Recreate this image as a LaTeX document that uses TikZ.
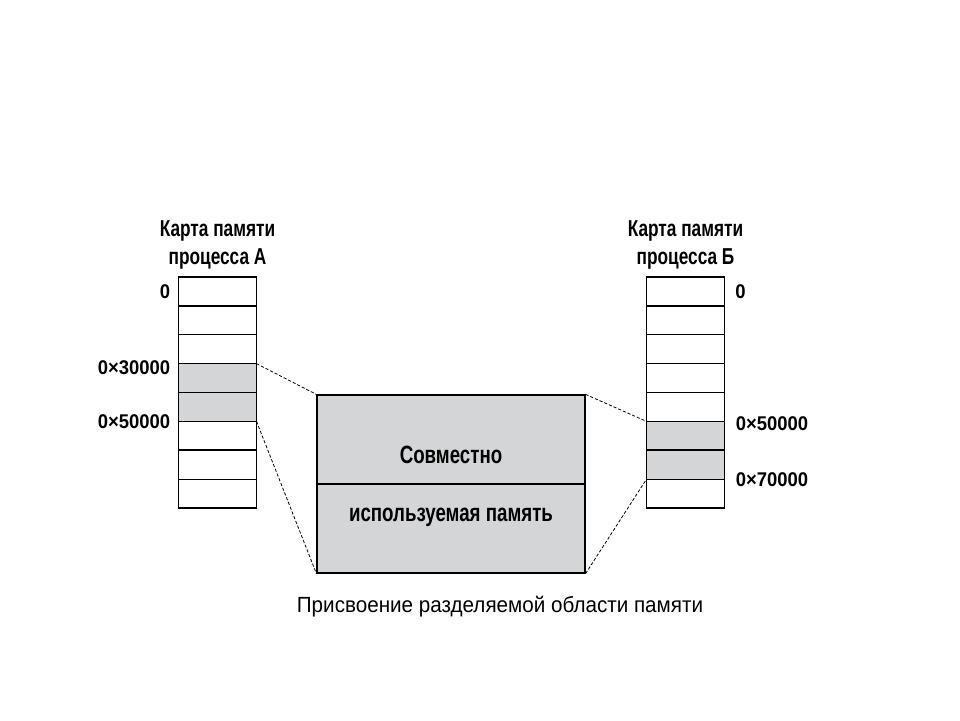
\documentclass[tikz,border=0pt]{standalone}
\usepackage{fontspec}
\setmainfont{Liberation Sans}
\newfontfamily\headfont{Liberation Sans}[FakeStretch=0.75]
\newfontfamily\addrfont{Liberation Sans}[FakeStretch=0.93]
\newfontfamily\capfont{Liberation Sans}[FakeStretch=0.94]
\usetikzlibrary{positioning,calc}
\definecolor{memgray}{RGB}{211,213,214}

\begin{document}
\begin{tikzpicture}[
    x=0.02cm, y=-0.02cm,
    cell/.style={rectangle, draw=black, line width=0.6pt, minimum width=1.56cm, minimum height=0.5775cm, inner sep=0pt, outer sep=0pt},
    title/.style={font=\headfont\bfseries\fontsize{13.1}{15.9}\selectfont, align=center, inner sep=0pt},
    addr/.style={font=\addrfont\bfseries\fontsize{11.3}{13}\selectfont, inner sep=0pt},
    inside/.style={font=\headfont\bfseries\fontsize{14.2}{16}\selectfont, inner sep=0pt},
    link/.style={dash pattern=on 1.8pt off 1.1pt, line width=0.45pt},
    divider/.style={line width=1.1pt}
]
    \useasboundingbox (0,0) rectangle (960,720);

    % memory maps of both processes
    \foreach \i/\fa/\fb in {1/white/white,2/white/white,3/white/white,4/memgray/white,5/memgray/white,6/white/memgray,7/white/memgray,8/white/white} {
        \node[cell, fill=\fa] (a\i) at (217.5, {277+(\i-0.5)*28.875}) {};
        \node[cell, fill=\fb] (b\i) at (685.5, {277+(\i-0.5)*28.875}) {};
    }
    \foreach \i in {1,6} {
        \draw[divider] (a\i.south west) -- (a\i.south east);
        \draw[divider] (b\i.south west) -- (b\i.south east);
    }

    \node[title, above=0.14cm of a1] (titleA) {Карта памяти\\процесса А};
    \node[title, above=0.14cm of b1] (titleB) {Карта памяти\\процесса Б};

    \node[addr, left=0.16cm of a1] (a0) {0};
    \node[addr, anchor=east] (a30) at ($(a4.north west)+(-8,4)$) {0×30000};
    \node[addr, anchor=east] (a50) at ($(a5.south west)+(-8,0)$) {0×50000};
    \node[addr, right=0.21cm of b1] (b0) {0};
    \node[addr, anchor=west] (b50) at ($(b6.north east)+(11,2)$) {0×50000};
    \node[addr, anchor=west] (b70) at ($(b7.south east)+(11,1)$) {0×70000};

    % shared region
    \node[rectangle, draw=black, fill=memgray, line width=0.7pt, minimum width=5.36cm, minimum height=3.56cm, inner sep=0pt] (shm) at (451,484) {};
    \draw[divider] (shm.west) -- (shm.east);
    \node[inside, above=0.4cm of shm.center] (shmtop) {Совместно};
    \node[inside, below=0.48cm of shm.center] (shmbot) {используемая память};

    \draw[link] (a4.north east) -- (shm.north west);
    \draw[link] (a5.south east) -- (shm.south west);
    \draw[link] (shm.north east) -- (b6.north west);
    \draw[link] (shm.south east) -- (b7.south west);

    \node[font=\capfont\fontsize{12.5}{14}\selectfont, inner sep=0pt] (caption) at (500,607) {Присвоение разделяемой области памяти};
\end{tikzpicture}
\end{document}
